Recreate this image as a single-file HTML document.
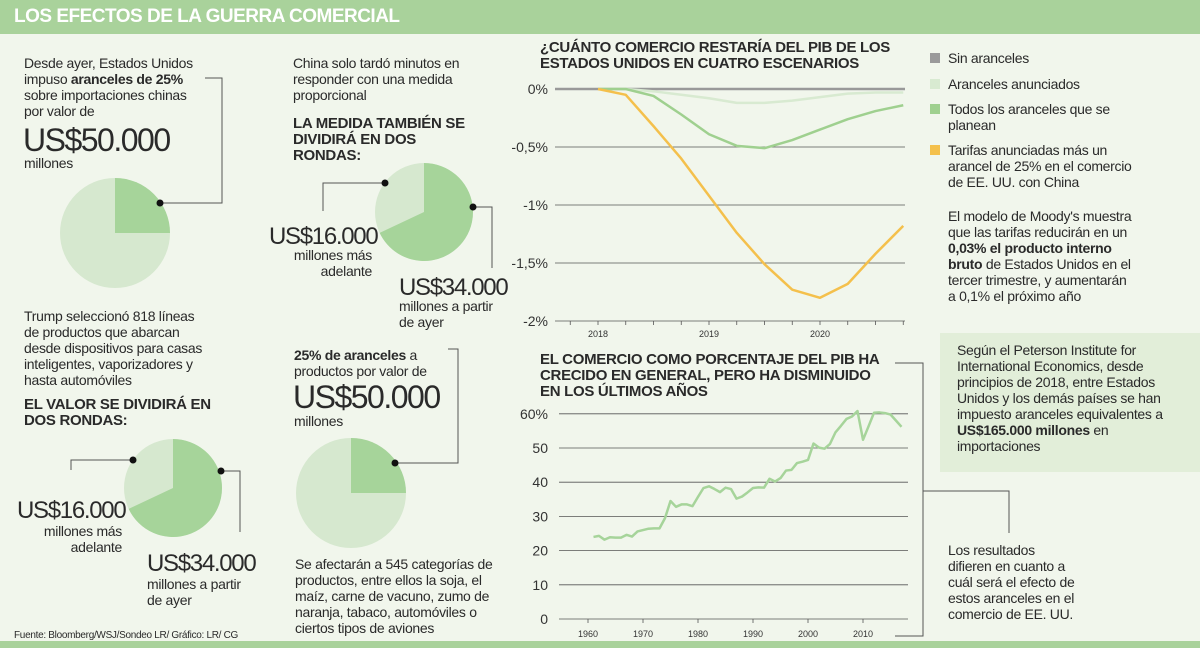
<!DOCTYPE html>
<html><head><meta charset="utf-8"><style>
body{margin:0}
#root{position:relative;width:1200px;height:648px;background:#f1f6ec;font-family:"Liberation Sans",sans-serif;color:#2a2a2a;overflow:hidden}
.t{position:absolute;font-size:14px;line-height:16px;letter-spacing:-0.3px;white-space:nowrap}
.h{position:absolute;font-size:15px;line-height:16px;font-weight:bold;letter-spacing:-0.3px;white-space:nowrap}
.big{position:absolute;font-size:32px;line-height:32px;letter-spacing:-1.5px;white-space:nowrap}
.mid{position:absolute;font-size:24px;line-height:28px;letter-spacing:-1.3px;white-space:nowrap}
svg{position:absolute;left:0;top:0}
</style></head><body>
<div id="root">
<svg width="1200" height="648">
 <rect x="0" y="0" width="1200" height="34" fill="#a9d29b"/>
 <rect x="0" y="641" width="1200" height="7" fill="#a9d29b"/>
 <rect x="940" y="333" width="260" height="139" fill="#e2eed9"/>
 <g fill="none" stroke="#555" stroke-width="1">
  <path d="M205,78H222V203H160"/>
  <path d="M133,460H71V470"/><path d="M221,471H240V532"/>
  <path d="M385,183H323V211"/><path d="M473,207H492V268"/>
  <path d="M448,349H458V463H395"/>
  <path d="M895,363H923V636H895"/><path d="M923,491H1009V533"/>
 </g>
 <g id="pies"></g>
 <g id="chart1"></g>
 <g id="chart2"></g>
</svg>
<div class="t" style="left:14px;top:4px;font-size:19px;line-height:26px;font-weight:bold;color:#fff;letter-spacing:-0.5px">LOS EFECTOS DE LA GUERRA COMERCIAL</div>

<div class="t" style="left:24px;top:55px">Desde ayer, Estados Unidos<br>impuso <b>aranceles de 25%</b><br>sobre importaciones chinas<br>por valor de</div>
<div class="big" style="left:23px;top:124px">US$50.000</div>
<div class="t" style="left:24px;top:155px">millones</div>

<div class="t" style="left:24px;top:308px">Trump seleccionó 818 líneas<br>de productos que abarcan<br>desde dispositivos para casas<br>inteligentes, vaporizadores y<br>hasta automóviles</div>
<div class="h" style="left:24px;top:397px">EL VALOR SE DIVIDIRÁ EN<br>DOS RONDAS:</div>
<div class="mid" style="left:17px;top:497px">US$16.000</div>
<div class="t" style="left:22px;top:523px;width:100px;text-align:right">millones más<br>adelante</div>
<div class="mid" style="left:147px;top:550px">US$34.000</div>
<div class="t" style="left:147px;top:576px">millones a partir<br>de ayer</div>
<div class="t" style="left:14px;top:630px;font-size:10px;line-height:12px">Fuente: Bloomberg/WSJ/Sondeo LR/ Gráfico: LR/ CG</div>

<div class="t" style="left:293px;top:55px">China solo tardó minutos en<br>responder con una medida<br>proporcional</div>
<div class="h" style="left:293px;top:116px">LA MEDIDA TAMBIÉN SE<br>DIVIDIRÁ EN DOS<br>RONDAS:</div>
<div class="mid" style="left:269px;top:223px">US$16.000</div>
<div class="t" style="left:272px;top:247px;width:100px;text-align:right">millones más<br>adelante</div>
<div class="mid" style="left:399px;top:274px">US$34.000</div>
<div class="t" style="left:399px;top:298px">millones a partir<br>de ayer</div>
<div class="t" style="left:294px;top:347px"><b>25% de aranceles</b> a<br>productos por valor de</div>
<div class="big" style="left:293px;top:381px">US$50.000</div>
<div class="t" style="left:294px;top:413px">millones</div>
<div class="t" style="left:295px;top:556px">Se afectarán a 545 categorías de<br>productos, entre ellos la soja, el<br>maíz, carne de vacuno, zumo de<br>naranja, tabaco, automóviles o<br>ciertos tipos de aviones</div>

<div class="h" style="left:540px;top:40px">¿CUÁNTO COMERCIO RESTARÍA DEL PIB DE LOS<br>ESTADOS UNIDOS EN CUATRO ESCENARIOS</div>
<div class="h" style="left:540px;top:352px">EL COMERCIO COMO PORCENTAJE DEL PIB HA<br>CRECIDO EN GENERAL, PERO HA DISMINUIDO<br>EN LOS ÚLTIMOS AÑOS</div>

<div>
 <div style="position:absolute;left:930px;top:53px;width:10px;height:10px;background:#9a9a9a"></div>
 <div class="t" style="left:948px;top:50px">Sin aranceles</div>
 <div style="position:absolute;left:930px;top:79px;width:10px;height:10px;background:#d8ead1"></div>
 <div class="t" style="left:948px;top:76px">Aranceles anunciados</div>
 <div style="position:absolute;left:930px;top:104px;width:10px;height:10px;background:#9fd08f"></div>
 <div class="t" style="left:948px;top:101px">Todos los aranceles que se<br>planean</div>
 <div style="position:absolute;left:930px;top:145px;width:10px;height:10px;background:#f4c04c"></div>
 <div class="t" style="left:948px;top:142px">Tarifas anunciadas más un<br>arancel de 25% en el comercio<br>de EE. UU. con China</div>
</div>
<div class="t" style="left:948px;top:208px">El modelo de Moody's muestra<br>que las tarifas reducirán en un<br><b>0,03% el producto interno<br>bruto</b> de Estados Unidos en el<br>tercer trimestre, y aumentarán<br>a 0,1% el próximo año</div>
<div class="t" style="left:957px;top:342px">Según el Peterson Institute for<br>International Economics, desde<br>principios de 2018, entre Estados<br>Unidos y los demás países se han<br>impuesto aranceles equivalentes a<br><b>US$165.000 millones</b> en<br>importaciones</div>
<div class="t" style="left:948px;top:542px">Los resultados<br>difieren en cuanto a<br>cuál será el efecto de<br>estos aranceles en el<br>comercio de EE. UU.</div>
</div>
<script>
const NS="http://www.w3.org/2000/svg";
// pie data (shares)
const pieShares=[0.25,0.68,0.68,0.25];
// chart 1 data: quarterly 2018Q1..2020Q4
const c1Quarters=[2018,2018.25,2018.5,2018.75,2019,2019.25,2019.5,2019.75,2020,2020.25,2020.5,2020.75];
const c1Sin=[0,0,0,0,0,0,0,0,0,0,0,0];
const c1Anunciados=[0,0,-0.02,-0.05,-0.08,-0.12,-0.12,-0.1,-0.07,-0.04,-0.03,-0.03];
const c1Todos=[0,0,-0.06,-0.22,-0.39,-0.49,-0.51,-0.44,-0.35,-0.26,-0.19,-0.14];
const c1Tarifas=[0,-0.05,-0.32,-0.6,-0.92,-1.24,-1.51,-1.73,-1.8,-1.68,-1.42,-1.18];
const c1Ticks=[0,-0.5,-1,-1.5,-2];
const c1TickLabels=["0%","-0,5%","-1%","-1,5%","-2%"];
const c1Years=[2018,2019,2020];
// chart 2 data
const c2Years=[];for(let y=1961;y<=2017;y++)c2Years.push(y);
const c2Values=[24,24.3,23.2,23.9,23.8,23.8,24.6,24.1,25.6,26,26.4,26.5,26.5,29.5,34.5,32.8,33.5,33.5,33,35.7,38.3,38.8,38,37.1,38.4,38,35.2,35.8,37,38.3,38.5,38.4,41,40.2,41.2,43.4,43.6,45.6,46,46.5,51.3,50.1,49.8,51.2,54.6,56.5,58.5,59.2,60.8,52.4,56.3,60.3,60.4,60.2,59.8,58,56.2];
const c2Ticks=[0,10,20,30,40,50,60];
const c2TickLabels=["0","10","20","30","40","50","60%"];
const c2XTicks=[1960,1970,1980,1990,2000,2010];

function mk(tag,attrs,parent){const e=document.createElementNS(NS,tag);for(const k in attrs)e.setAttribute(k,attrs[k]);parent.appendChild(e);return e;}

// pies
const pieGeo=[[115,233,55],[173,488,49],[424,212,49],[351,493,55]];
const pies=document.getElementById('pies');
pieShares.forEach((s,i)=>{
 const [cx,cy,r]=pieGeo[i];
 const c=mk('circle',{cx,cy,r,fill:'#d6e8cf'},pies);
 
 
 const a=s*2*Math.PI;const x=cx+r*Math.sin(a),y=cy-r*Math.cos(a);
 const p=mk('path',{d:`M${cx},${cy}L${cx},${cy-r}A${r},${r} 0 ${s>0.5?1:0} 1 ${x},${y}Z`,fill:'#a6d49a'},pies);
 
 
});
[[160,203],[133,460],[221,471],[385,183],[473,207],[395,463]].forEach(d=>{
 const c=mk('circle',{cx:d[0],cy:d[1],r:3.5,fill:'#111'},pies);
 
 
});

// chart 1
const g1=document.getElementById('chart1');
const x1=v=>598+(v-2018)*111, y1=v=>89-v*116;
c1Ticks.forEach((t,i)=>{
 const l=mk('line',{x1:555,x2:905,y1:y1(t),y2:y1(t),stroke:'#555','stroke-width':0.8},g1);
 
 
 const tx=mk('text',{x:548,y:y1(t)+5,'text-anchor':'end','font-size':14,fill:'#333','font-family':'Liberation Sans'},g1);
 tx.textContent=c1TickLabels[i];
 
 
});
for(let q=2017.75;q<=2020.8;q+=0.25){
 const l=mk('line',{x1:x1(q),x2:x1(q),y1:321,y2:325,stroke:'#555','stroke-width':0.8},g1);
 
 
}
c1Years.forEach(y=>{
 const tx=mk('text',{x:x1(y),y:337,'text-anchor':'middle','font-size':9,fill:'#333','font-family':'Liberation Sans'},g1);
 tx.textContent=y;
 
 
});
const sin=mk('line',{x1:555,x2:905,y1:y1(c1Sin[0]),y2:y1(c1Sin[c1Sin.length-1]),stroke:'#999','stroke-width':2.5},g1);


[[c1Anunciados,'#d8ead1','series-anunciados'],[c1Todos,'#9fd08f','series-todos'],[c1Tarifas,'#f4c04c','series-tarifas']].forEach(s=>{
 const pts=s[0].map((v,i)=>x1(c1Quarters[i])+','+y1(v)).join(' ');
 const p=mk('polyline',{points:pts,fill:'none',stroke:s[1],'stroke-width':2.5,'stroke-linejoin':'round'},g1);
 
 
});

// chart 2
const g2=document.getElementById('chart2');
const x2=v=>588+(v-1960)*5.5, y2=v=>619-v*3.42;
c2Ticks.forEach((t,i)=>{
 const l=mk('line',{x1:559,x2:908,y1:y2(t),y2:y2(t),stroke:'#555','stroke-width':0.8},g2);
 
 
 const tx=mk('text',{x:548,y:y2(t)+5,'text-anchor':'end','font-size':14,fill:'#333','font-family':'Liberation Sans'},g2);
 tx.textContent=c2TickLabels[i];
 
 
});
c2XTicks.forEach(y=>{
 const l=mk('line',{x1:x2(y),x2:x2(y),y1:619,y2:623,stroke:'#555','stroke-width':0.8},g2);
 
 
 const tx=mk('text',{x:x2(y),y:637,'text-anchor':'middle','font-size':9,fill:'#333','font-family':'Liberation Sans'},g2);
 tx.textContent=y;
 
 
});
const p2=mk('polyline',{points:c2Values.map((v,i)=>x2(c2Years[i])+','+y2(v)).join(' '),fill:'none',stroke:'#a6d49a','stroke-width':2.5,'stroke-linejoin':'round'},g2);


</script>
</body></html>
